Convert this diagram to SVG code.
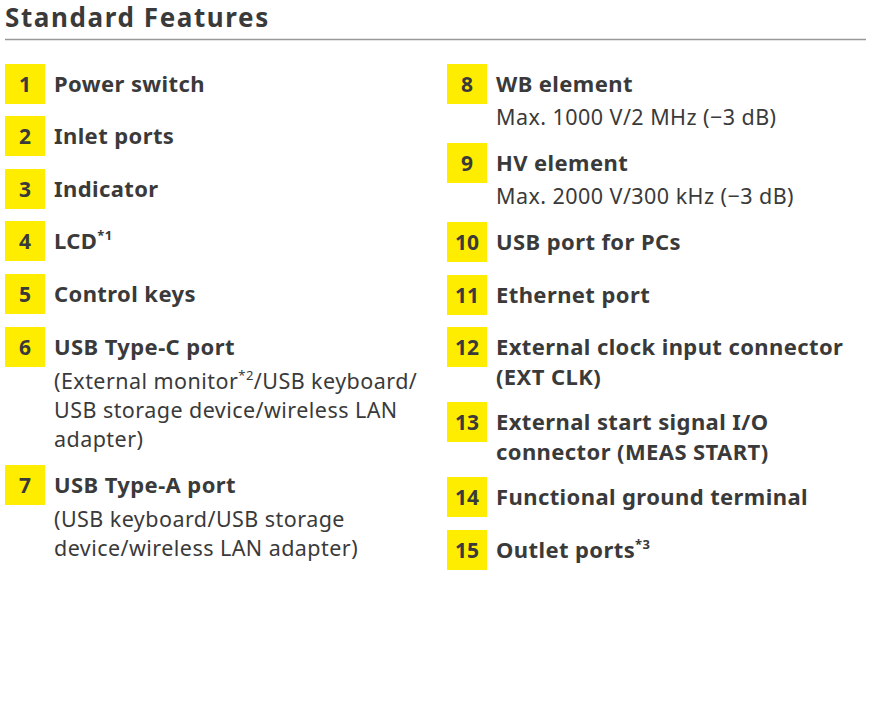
<svg xmlns="http://www.w3.org/2000/svg" width="872" height="712" viewBox="0 0 872 712">
<style>
text{font-family:"Noto Sans","Open Sans",sans-serif;fill:#3a3a3a}
.b{font-weight:bold;font-size:22px;letter-spacing:0.4px}
.n{font-weight:bold;font-size:21px;text-anchor:middle}
.r{font-size:21.5px;letter-spacing:0.45px}
.box{fill:#FFED00}
</style>
<rect width="872" height="712" fill="#fff"/>
<text x="5" y="27" style="font-weight:bold;font-size:26px;letter-spacing:1.6px">Standard Features</text>
<line x1="5" y1="39.5" x2="866" y2="39.5" stroke="#999" stroke-width="1.5"/>
<g id="i1"><rect class="box" x="5" y="64" width="40" height="40"/><text class="n" x="25" y="92">1</text><text class="b" x="54" y="92">Power switch</text></g>
<g id="i2"><rect class="box" x="5" y="116" width="40" height="40"/><text class="n" x="25" y="144">2</text><text class="b" x="54" y="144">Inlet ports</text></g>
<g id="i3"><rect class="box" x="5" y="169" width="40" height="40"/><text class="n" x="25" y="197">3</text><text class="b" x="54" y="197">Indicator</text></g>
<g id="i4"><rect class="box" x="5" y="221" width="40" height="40"/><text class="n" x="25" y="249">4</text><text class="b" x="54" y="249">LCD<tspan font-size="13" dy="-9">*1</tspan></text></g>
<g id="i5"><rect class="box" x="5" y="274" width="40" height="40"/><text class="n" x="25" y="302">5</text><text class="b" x="54" y="302">Control keys</text></g>
<g id="i6"><rect class="box" x="5" y="327" width="40" height="40"/><text class="n" x="25" y="355">6</text><text class="b" x="54" y="355">USB Type-C port</text>
<text class="r" x="54" y="389">(External monitor<tspan font-size="13" dy="-9">*2</tspan><tspan dy="9">/USB keyboard/</tspan></text>
<text class="r" x="54" y="418">USB storage device/wireless LAN</text>
<text class="r" x="54" y="447">adapter)</text></g>
<g id="i7"><rect class="box" x="5" y="465" width="40" height="40"/><text class="n" x="25" y="493">7</text><text class="b" x="54" y="493">USB Type-A port</text>
<text class="r" x="54" y="527">(USB keyboard/USB storage</text>
<text class="r" x="54" y="556">device/wireless LAN adapter)</text></g>
<g id="i8"><rect class="box" x="447" y="64" width="40" height="40"/><text class="n" x="467" y="92">8</text><text class="b" x="496" y="92">WB element</text><text class="r" x="496" y="125">Max. 1000 V/2 MHz (−3 dB)</text></g>
<g id="i9"><rect class="box" x="447" y="143" width="40" height="40"/><text class="n" x="467" y="171">9</text><text class="b" x="496" y="171">HV element</text><text class="r" x="496" y="204">Max. 2000 V/300 kHz (−3 dB)</text></g>
<g id="i10"><rect class="box" x="447" y="222" width="40" height="40"/><text class="n" x="467" y="250">10</text><text class="b" x="496" y="250">USB port for PCs</text></g>
<g id="i11"><rect class="box" x="447" y="275" width="40" height="40"/><text class="n" x="467" y="303">11</text><text class="b" x="496" y="303">Ethernet port</text></g>
<g id="i12"><rect class="box" x="447" y="327" width="40" height="40"/><text class="n" x="467" y="355">12</text><text class="b" x="496" y="355">External clock input connector</text><text class="b" x="496" y="385">(EXT CLK)</text></g>
<g id="i13"><rect class="box" x="447" y="402" width="40" height="40"/><text class="n" x="467" y="430">13</text><text class="b" x="496" y="430">External start signal I/O</text><text class="b" x="496" y="460">connector (MEAS START)</text></g>
<g id="i14"><rect class="box" x="447" y="477" width="40" height="40"/><text class="n" x="467" y="505">14</text><text class="b" x="496" y="505">Functional ground terminal</text></g>
<g id="i15"><rect class="box" x="447" y="530" width="40" height="40"/><text class="n" x="467" y="558">15</text><text class="b" x="496" y="558">Outlet ports<tspan font-size="13" dy="-9">*3</tspan></text></g>
</svg>
